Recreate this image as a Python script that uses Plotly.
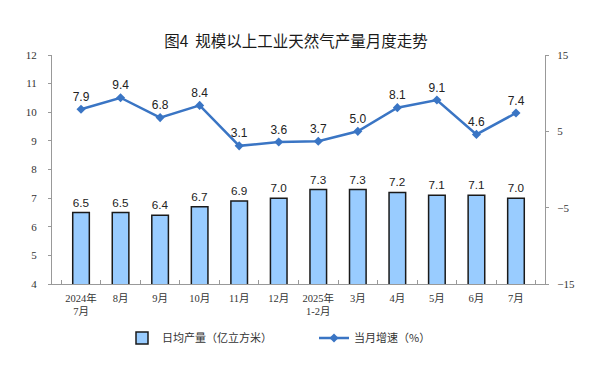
import plotly.graph_objects as go

categories = ["2024年<br>7月", "8月", "9月", "10月", "11月", "12月",
              "2025年<br>1-2月", "3月", "4月", "5月", "6月", "7月"]
daily_output = [6.5, 6.5, 6.4, 6.7, 6.9, 7.0, 7.3, 7.3, 7.2, 7.1, 7.1, 7.0]
growth_rate = [7.9, 9.4, 6.8, 8.4, 3.1, 3.6, 3.7, 5.0, 8.1, 9.1, 4.6, 7.4]
left_ticks = [4, 5, 6, 7, 8, 9, 10, 11, 12]
right_ticks = [-15, -5, 5, 15]

W, H = 599, 374
fig = go.Figure()
fig.add_trace(go.Bar(
    x=categories, y=daily_output, name="日均产量（亿立方米）",
    marker=dict(color="#99CCFF", line=dict(color="#1a1a1a", width=1.5)),
    text=[f"{v:.1f}" for v in daily_output], textposition="outside",
    textfont=dict(family="Liberation Sans, Arial", size=12, color="#222"),
    cliponaxis=False, yaxis="y", legend="legend",
))
fig.add_trace(go.Scatter(
    x=categories, y=growth_rate, name="当月增速（%）", mode="lines+markers+text",
    line=dict(color="#3A75C4", width=2.5),
    marker=dict(symbol="diamond", size=7, color="#3A75C4"),
    text=[f"{v:.1f}" for v in growth_rate], textposition="top center",
    textfont=dict(family="Liberation Sans, Arial", size=12, color="#222"),
    cliponaxis=False, yaxis="y2", legend="legend2",
))

tickfont = dict(family="Liberation Serif, 'Noto Sans CJK SC'", size=11, color="#333")
legfont = dict(family="Noto Sans CJK SC", size=11, color="#333")
fig.update_layout(
    width=W, height=H,
    margin=dict(l=44, r=62, t=47, b=98, autoexpand=False),
    paper_bgcolor="white", plot_bgcolor="white",
    title=dict(text="图4  规模以上工业天然气产量月度走势", x=288 / W, xanchor="center",
               y=1 - 34 / H, yanchor="middle",
               font=dict(family="Noto Sans CJK SC", size=15.5, color="#1a1a1a")),
    bargap=0.58,
    showlegend=True,
    legend=dict(orientation="h", xref="container", x=114 / W, xanchor="left",
                yref="container", y=(H - 330) / H, yanchor="middle",
                font=legfont, itemwidth=30),
    legend2=dict(orientation="h", xref="container", x=306 / W, xanchor="left",
                 yref="container", y=(H - 330) / H, yanchor="middle",
                 font=legfont, itemwidth=30),
    xaxis=dict(type="category", showline=True, linecolor="#999", linewidth=1,
               ticks="inside", tickson="boundaries", ticklen=4, tickcolor="#999",
               tickangle=0, automargin=False, ticklabelstandoff=4,
               tickfont=dict(family="Liberation Serif, 'Noto Sans CJK SC'", size=10.5,
                             color="#333"),
               showgrid=False),
    yaxis=dict(range=[4, 12], tickvals=left_ticks, showline=True, linecolor="#999",
               linewidth=1, ticks="outside", ticklen=3, tickcolor="#999", automargin=False,
               showgrid=False, zeroline=False, tickfont=tickfont, ticklabelstandoff=9),
    yaxis2=dict(range=[-15, 15], tickvals=right_ticks, overlaying="y", side="right",
                showline=True, linecolor="#999", linewidth=1, ticks="outside",
                ticklen=3, tickcolor="#999", showgrid=False, zeroline=False, automargin=False,
                tickfont=tickfont, ticklabelstandoff=6),
)
fig.write_html("out.html")
